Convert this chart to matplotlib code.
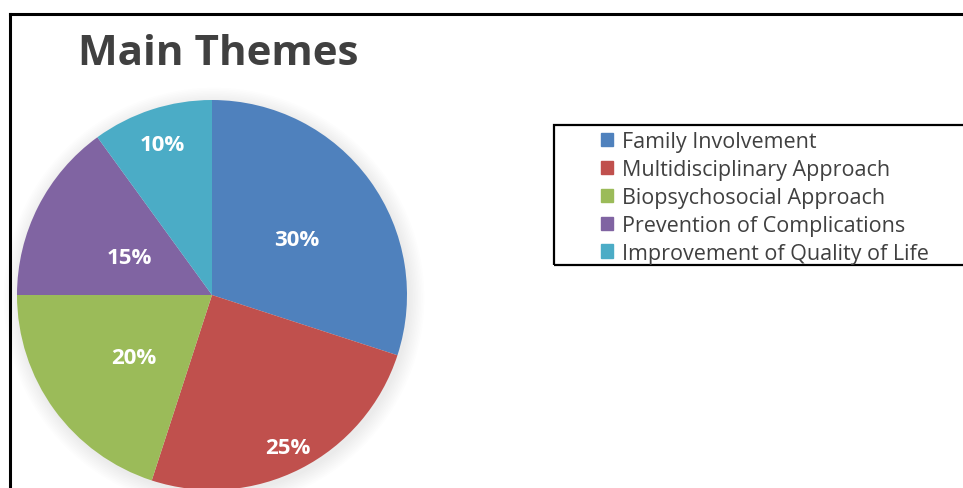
import numpy as np
import matplotlib.pyplot as plt
import matplotlib.patches as patches

plt.rcParams['font.family'] = ['Open Sans', 'DejaVu Sans']

# data
themes = ["Family Involvement", "Multidisciplinary Approach", "Biopsychosocial Approach",
          "Prevention of Complications", "Improvement of Quality of Life"]
shares = [30, 25, 20, 15, 10]
colors = ["#4F81BD", "#C0504D", "#9BBB59", "#8064A2", "#4BACC6"]
label_dist = [0.53, 0.85, 0.50, 0.48, 0.84]

W, H = 963, 489
fig = plt.figure(figsize=(W / 100, H / 100), dpi=100)
ax = fig.add_axes([0, 0, 1, 1])

cx, cy, r = 212, H - 296, 195

# soft shadow behind the pie
for i in range(10):
    ax.add_patch(patches.Circle((cx + 2, cy - 3), r + 1 + i * 1.6, color='black',
                                alpha=0.008, lw=0, zorder=0))

wedges, _ = ax.pie(shares, colors=colors, startangle=90, counterclock=False,
                   center=(cx, cy), radius=r, wedgeprops=dict(linewidth=0))

for w, s, d in zip(wedges, shares, label_dist):
    ang = np.deg2rad((w.theta1 + w.theta2) / 2)
    ax.text(cx + d * r * np.cos(ang) + 1, cy + d * r * np.sin(ang) - 5, f"{s}%",
            ha='center', va='center', color='white', fontsize=16, fontweight='bold')

ax.set_xlim(0, W)
ax.set_ylim(0, H)
ax.set_aspect('equal')
ax.axis('off')

# outer chart frame (cropped)
ax.plot([10, W + 5], [H - 15, H - 15], color='black', lw=2.2, solid_capstyle='projecting')
ax.plot([10, 10], [H - 15, -5], color='black', lw=2.2, solid_capstyle='projecting')

ax.text(78, H - 55, "Main Themes", fontsize=30.3, fontweight='bold', color='#404040',
        ha='left', va='center')

# legend box
ax.add_patch(patches.Rectangle((554, H - 266), W, 140, fill=False, ec='black', lw=1.6))
handles = [patches.Patch(color=c) for c in colors]
leg = ax.legend(handles, themes, loc='upper left', bbox_to_anchor=(601 / W, (H - 132) / H),
                frameon=False, fontsize=15.5, handlelength=0.56, handleheight=0.56,
                handletextpad=0.42, labelspacing=0.32, borderpad=0, borderaxespad=0)
for t in leg.get_texts():
    t.set_color('#404040')

fig.savefig("out.png", dpi=100)
